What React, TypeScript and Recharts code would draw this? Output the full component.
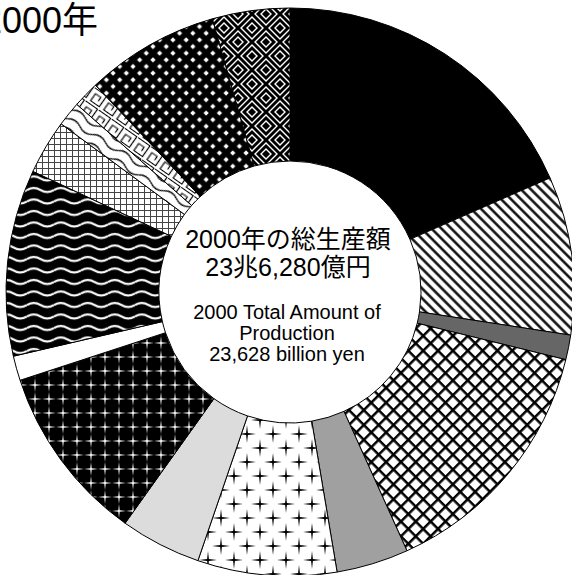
import React from 'react';
import { PieChart, Pie, Cell } from 'recharts';

const categories = ['区分1', '区分2', '区分3', '区分4', '区分5', '区分6', '区分7', '区分8', '区分9', '区分10', '区分11', '区分12', '区分13', '区分14', '区分15'];
const shares = [18.4, 9.0, 1.4, 14.4, 4.1, 7.9, 4.6, 10.1, 1.4, 10.6, 3.1, 1.4, 1.5, 7.6, 4.4];
const fills = ['#000000', 'url(#pDiag)', '#666666', 'url(#pCross)', '#a0a0a0', 'url(#pStarW)', '#dcdcdc', 'url(#pStarB)', '#ffffff', 'url(#pWaveB)', 'url(#pGrid)', 'url(#pWaveW)', 'url(#pMaze)', 'url(#pDots)', 'url(#pDiamond)'];
const titleText = '2000年';
const centerJa = ['2000年の総生産額', '23兆6,280億円'];
const centerEn = ['2000 Total Amount of', 'Production', '23,628 billion yen'];

const data = categories.map((name, i) => ({ name, value: shares[i] }));
const FONT = '"Liberation Sans", Arial, "Noto Sans CJK JP", sans-serif';

const starPath = (cx: number, cy: number, a: number, w: number) =>
  `M${cx} ${cy - a} L${cx + w} ${cy - w} L${cx + a} ${cy} L${cx + w} ${cy + w} L${cx} ${cy + a} L${cx - w} ${cy + w} L${cx - a} ${cy} L${cx - w} ${cy - w} Z`;

const diamond = (cx: number, cy: number, r: number) =>
  `M${cx} ${cy - r} L${cx + r} ${cy} L${cx} ${cy + r} L${cx - r} ${cy} Z`;

export default function App() {
  return (
    <div style={{ position: 'absolute', left: 0, top: 0, width: 572, height: 575, background: '#fff', overflow: 'hidden' }}>
      <svg width={0} height={0} style={{ position: 'absolute' }}>
        <defs>
          <pattern id="pDiag" patternUnits="userSpaceOnUse" width={7} height={7} patternTransform="rotate(-45)">
            <rect width={7} height={7} fill="#fff" />
            <line x1={3.5} y1={0} x2={3.5} y2={7} stroke="#000" strokeWidth={2.4} />
          </pattern>
          <pattern id="pCross" patternUnits="userSpaceOnUse" width={10.5} height={10.5} patternTransform="rotate(45)">
            <rect width={10.5} height={10.5} fill="#fff" />
            <line x1={0} y1={0} x2={10.5} y2={0} stroke="#000" strokeWidth={5} />
            <line x1={0} y1={0} x2={0} y2={10.5} stroke="#000" strokeWidth={5} />
          </pattern>
          <pattern id="pStarW" patternUnits="userSpaceOnUse" width={26} height={28}>
            <rect width={26} height={28} fill="#fff" />
            <path d={starPath(13, 14, 9, 0.9)} fill="#000" />
            <path d={starPath(0, 0, 9, 0.9)} fill="#000" />
            <path d={starPath(26, 0, 9, 0.9)} fill="#000" />
            <path d={starPath(0, 28, 9, 0.9)} fill="#000" />
            <path d={starPath(26, 28, 9, 0.9)} fill="#000" />
          </pattern>
          <pattern id="pStarB" patternUnits="userSpaceOnUse" width={14} height={14}>
            <rect width={14} height={14} fill="#000" />
            <path d={starPath(7, 7, 7, 0.7)} fill="#fff" />
          </pattern>
          <pattern id="pWaveB" patternUnits="userSpaceOnUse" width={27} height={11.5}>
            <rect width={27} height={11.5} fill="#000" />
            <path d="M0 6 Q6.75 2 13.5 6 T27 6" fill="none" stroke="#fff" strokeWidth={2} />
          </pattern>
          <pattern id="pGrid" patternUnits="userSpaceOnUse" width={6} height={6}>
            <rect width={6} height={6} fill="#fff" />
            <line x1={0} y1={0.5} x2={6} y2={0.5} stroke="#444" strokeWidth={1} />
            <line x1={0.5} y1={0} x2={0.5} y2={6} stroke="#444" strokeWidth={1} />
          </pattern>
          <pattern id="pWaveW" patternUnits="userSpaceOnUse" width={30} height={10} patternTransform="rotate(32)">
            <rect width={30} height={10} fill="#fff" />
            <path d="M0 5 Q7.5 0 15 5 T30 5" fill="none" stroke="#000" strokeWidth={1.3} />
          </pattern>
          <pattern id="pMaze" patternUnits="userSpaceOnUse" width={16} height={16} patternTransform="rotate(35)">
            <rect width={16} height={16} fill="#fff" />
            <path d="M0 1.5 H14.5 V14.5 H4 V6 H10.5 V10.5" fill="none" stroke="#000" strokeWidth={1.2} />
          </pattern>
          <pattern id="pDots" patternUnits="userSpaceOnUse" width={13.3} height={13.3}>
            <rect width={13.3} height={13.3} fill="#000" />
            <path d={diamond(0, 0, 2.6)} fill="#fff" />
            <path d={diamond(13.3, 0, 2.6)} fill="#fff" />
            <path d={diamond(0, 13.3, 2.6)} fill="#fff" />
            <path d={diamond(13.3, 13.3, 2.6)} fill="#fff" />
            <path d={diamond(6.65, 6.65, 2.6)} fill="#fff" />
          </pattern>
          <pattern id="pDiamond" patternUnits="userSpaceOnUse" width={28} height={28}>
            <rect width={28} height={28} fill="#000" />
            {[[14, 14], [0, 0], [28, 0], [0, 28], [28, 28]].map(([x, y], i) => (
              <g key={i}>
                <path d={diamond(x, y, 11)} fill="none" stroke="#fff" strokeWidth={1.4} />
                <path d={diamond(x, y, 5)} fill="none" stroke="#fff" strokeWidth={1.4} />
              </g>
            ))}
          </pattern>
        </defs>
      </svg>
      <PieChart width={572} height={575} margin={{ top: 0, right: 0, bottom: 0, left: 0 }}>
        <Pie
          data={data}
          dataKey="value"
          nameKey="name"
          cx={290}
          cy={292}
          innerRadius={131}
          outerRadius={284}
          startAngle={90}
          endAngle={-270}
          stroke="#000"
          strokeWidth={1}
          isAnimationActive={false}
        >
          {data.map((d, i) => (
            <Cell key={d.name} fill={fills[i]} />
          ))}
        </Pie>
      </PieChart>
      <svg width={572} height={575} style={{ position: 'absolute', left: 0, top: 0, pointerEvents: 'none' }}>
        <text x={98} y={33} textAnchor="end" fontFamily={FONT} fontSize={36} fill="#000">{titleText}</text>
        {centerJa.map((t, i) => (
          <text key={t} x={288} y={248 + i * 28} textAnchor="middle" fontFamily={FONT} fontSize={25} fill="#000">{t}</text>
        ))}
        {centerEn.map((t, i) => (
          <text key={t} x={287} y={319 + i * 21} textAnchor="middle" fontFamily={FONT} fontSize={20} fill="#000">{t}</text>
        ))}
      </svg>
    </div>
  );
}
